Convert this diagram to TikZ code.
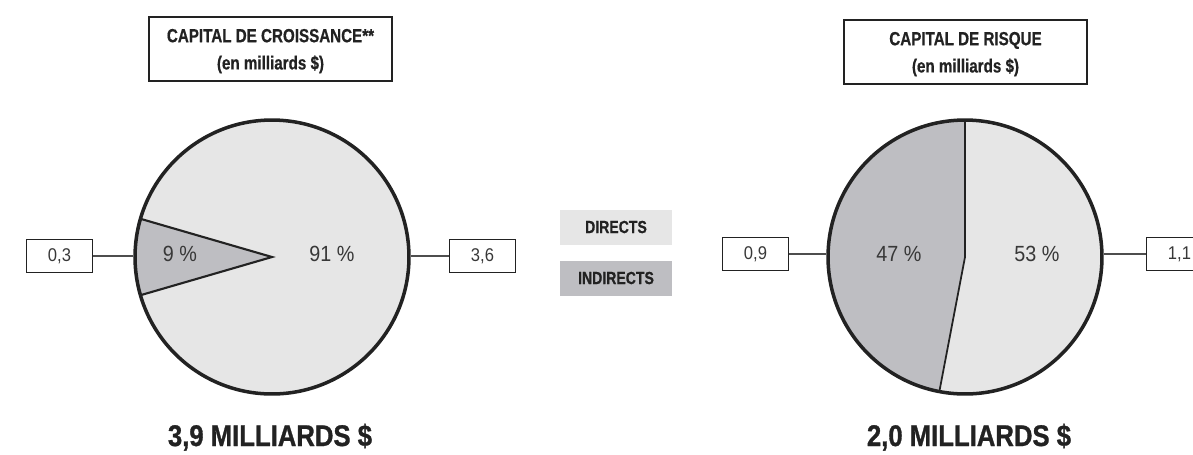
\documentclass[tikz,border=0pt]{standalone}
\usepackage{fontspec}
\setmainfont{Liberation Sans}
\newfontfamily\condfont[FakeStretch=0.8, BoldFeatures={FakeBold=0.6}]{Liberation Sans}
\newfontfamily\pctfont[FakeStretch=0.9]{Liberation Sans}
\newfontfamily\totfont[FakeStretch=0.86, BoldFeatures={FakeBold=1}]{Liberation Sans}
\usetikzlibrary{positioning}
\definecolor{direct}{HTML}{E6E6E6}
\definecolor{indirect}{HTML}{BEBEC2}
\definecolor{ink}{HTML}{222222}
\tikzset{
  titlebox/.style={draw=ink, line width=1.3pt, minimum width=4.86cm, minimum height=1.27cm,
    align=center, text=ink, font=\condfont\bfseries\fontsize{10.8}{15.5}\selectfont},
  valbox/.style={draw=ink, line width=1.1pt, minimum width=1.32cm, minimum height=0.66cm,
    inner sep=0pt, text=ink!90, font=\pctfont\fontsize{10.5}{12}\selectfont},
  legbox/.style={minimum width=2.24cm, minimum height=0.7cm, inner sep=0pt, text=ink,
    font=\condfont\bfseries\fontsize{10}{12}\selectfont},
  pct/.style={text=ink!90, font=\pctfont\fontsize{12.5}{15}\selectfont},
  total/.style={text=ink, font=\totfont\bfseries\fontsize{17}{20}\selectfont},
  pie/.style={circle, draw=ink, line width=2pt, inner sep=0pt, minimum size=5.48cm},
  link/.style={draw=ink!80, line width=0.9pt},
}
\begin{document}
\begin{tikzpicture}[x=0.02cm, y=-0.02cm]
\useasboundingbox (0,0) rectangle (1193,454);
% croissance
\coordinate (cL) at (272,257);
\fill[direct] (cL) circle[radius=2.74cm];
\filldraw[indirect, draw=ink, line width=1.2pt] (cL) -- ++(163.8:2.74cm)
  arc[start angle=163.8, end angle=196.2, radius=2.74cm] -- cycle;
\node[pie] (pieL) at (cL) {};
\node[titlebox] (titleL) at (270.5,49) {\rule{0pt}{10pt}CAPITAL DE CROISSANCE**\\(en milliards \$)};
\node[pct] (p9) at (180,254) {9 \%};
\node[pct] (p91) at (332,254) {91 \%};
\node[valbox] (v03) at (59.5,256) {0,3};
\node[valbox] (v36) at (482.5,256) {3,6};
\draw[link] (v03.east) -- (v03.east -| pieL.west);
\draw[link] (v36.west) -- (v36.west -| pieL.east);
\node[total, anchor=base] (totL) at (270,446) {3,9 MILLIARDS \$};
% legende
\node[legbox, fill=direct] (dir) at (616,227) {DIRECTS};
\node[legbox, fill=indirect] (indir) at (616,278) {INDIRECTS};
% risque
\coordinate (cR) at (965,257);
\fill[direct] (cR) circle[radius=2.74cm];
\fill[indirect] (cR) -- ++(90:2.74cm)
  arc[start angle=90, end angle=259.2, radius=2.74cm] -- cycle;
\draw[ink, line width=1pt] (cR) ++(90:2.74cm) -- (cR) -- ++(259.2:2.74cm);
\node[pie] (pieR) at (cR) {};
\node[titlebox] (titleR) at (965.5,52) {\rule{0pt}{10pt}CAPITAL DE RISQUE\\(en milliards \$)};
\node[pct] (p47) at (899,254) {47 \%};
\node[pct] (p53) at (1037,254) {53 \%};
\node[valbox] (v09) at (755.5,254) {0,9};
\node[valbox] (v11) at (1179.5,254) {1,1};
\draw[link] (v09.east) -- (v09.east -| pieR.west);
\draw[link] (v11.west) -- (v11.west -| pieR.east);
\node[total, anchor=base] (totR) at (969,446) {2,0 MILLIARDS \$};
\end{tikzpicture}
\end{document}
